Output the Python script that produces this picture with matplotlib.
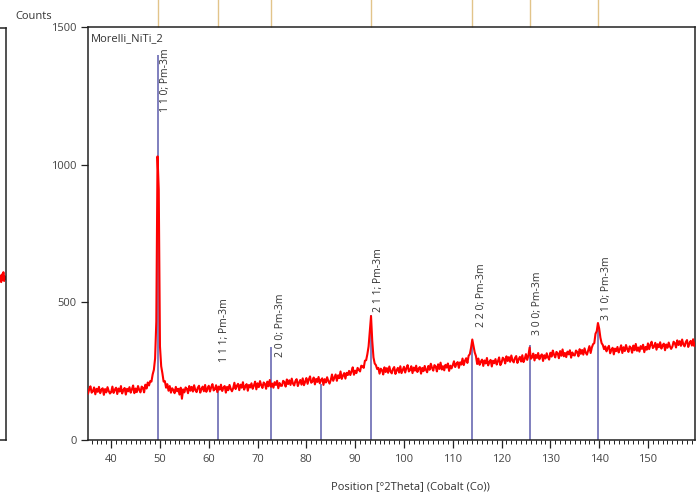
#!/usr/bin/env python
import matplotlib
matplotlib.use("Agg")
import matplotlib.pyplot as plt
import numpy as np
from matplotlib.ticker import MultipleLocator

plt.rcParams["font.family"] = ["Open Sans", "DejaVu Sans"]

output_file = "out.png"

# scan: Co K-alpha, 35 - 160 deg 2theta, 0.25 deg step
start_2theta = 35.0
step_2theta = 0.25
counts = [
    189, 168, 184, 195, 172, 177, 191, 166, 186, 175, 193, 170, 182, 188, 164, 185, 173, 192, 178, 169,
    174, 194, 171, 183, 190, 167, 187, 176, 196, 169, 181, 189, 165, 186, 177, 192, 172, 184, 198, 170,
    187, 174, 196, 182, 173, 194, 190, 173, 201, 187, 209, 198, 214, 212, 238, 255, 296, 430, 1030, 910,
    340, 268, 242, 212, 214, 190, 203, 179, 196, 172, 188, 181, 170, 193, 177, 186, 165, 190, 150, 184,
    173, 191, 186, 170, 196, 179, 193, 176, 199, 181, 174, 190, 197, 172, 185, 194, 177, 200, 175, 187,
    197, 176, 192, 203, 180, 185, 199, 174, 194, 183, 201, 178, 190, 196, 172, 193, 181, 200, 186, 177,
    188, 208, 185, 197, 204, 181, 201, 190, 210, 183, 195, 203, 179, 200, 191, 206, 186, 198, 212, 184,
    206, 192, 214, 199, 189, 209, 204, 186, 212, 195, 218, 193, 205, 190, 210, 200, 215, 188, 207, 197,
    197, 215, 210, 194, 220, 203, 217, 200, 223, 205, 198, 214, 221, 196, 209, 218, 201, 224, 199, 211,
    225, 204, 220, 231, 208, 213, 227, 202, 222, 211, 229, 206, 218, 224, 200, 221, 209, 228, 214, 205,
    218, 238, 215, 227, 238, 215, 235, 225, 249, 222, 234, 243, 223, 244, 236, 251, 236, 249, 264, 237,
    252, 243, 262, 255, 249, 270, 268, 262, 288, 290, 312, 340, 395, 450, 360, 300, 278, 272, 258, 262,
    241, 259, 254, 238, 264, 247, 261, 244, 267, 249, 242, 258, 265, 240, 253, 262, 245, 268, 243, 255,
    266, 245, 261, 272, 249, 254, 268, 243, 263, 252, 270, 247, 259, 265, 241, 262, 250, 269, 255, 246,
    269, 255, 277, 262, 252, 272, 267, 249, 275, 258, 281, 256, 268, 253, 273, 263, 278, 251, 270, 260,
    272, 286, 265, 277, 283, 262, 282, 274, 296, 272, 288, 297, 280, 306, 312, 335, 365, 342, 318, 305,
    276, 296, 273, 285, 292, 269, 289, 278, 298, 271, 283, 291, 267, 288, 279, 294, 274, 286, 300, 272,
    281, 299, 294, 278, 304, 287, 301, 284, 307, 289, 282, 298, 305, 280, 293, 302, 285, 308, 283, 295,
    312, 291, 307, 336, 295, 300, 314, 289, 309, 298, 316, 293, 305, 311, 287, 308, 296, 315, 301, 292,
    317, 303, 325, 310, 300, 320, 315, 297, 323, 306, 329, 304, 316, 301, 321, 311, 326, 299, 318, 308,
    307, 325, 320, 304, 330, 313, 327, 310, 333, 317, 310, 326, 341, 316, 336, 348, 352, 386, 395, 425,
    405, 372, 352, 345, 330, 340, 322, 334, 342, 315, 327, 335, 311, 332, 323, 338, 318, 330, 344, 316,
    337, 323, 345, 330, 320, 340, 335, 317, 343, 326, 349, 324, 336, 321, 341, 331, 346, 319, 338, 328,
    351, 330, 346, 357, 334, 339, 353, 328, 348, 337, 355, 332, 344, 350, 326, 347, 335, 354, 340, 331,
    339, 357, 352, 336, 362, 345, 359, 342, 365, 347, 340, 356, 363, 338, 351, 360, 343, 366, 341, 353,
]

# reference pattern NiTi (B2, Pm-3m)
ref_hkl = ["1 1 0", "1 1 1", "2 0 0", "2 1 0", "2 1 1", "2 2 0", "3 0 0", "3 1 0"]
ref_2theta = [49.6, 61.8, 72.8, 83.1, 93.3, 114.0, 125.8, 139.8]
ref_counts = [1400, 180, 338, 205, 455, 350, 345, 425]
# label anchors (position, counts) for the labelled lines
label_hkl = ["1 1 0", "1 1 1", "2 0 0", "2 1 1", "2 2 0", "3 0 0", "3 1 0"]
label_2theta = [51.2, 63.3, 74.6, 94.7, 115.8, 127.3, 141.6]
label_counts = [1191, 283, 301, 465, 410, 381, 436]

# second phase markers along the top
marker_2theta = [49.6, 61.8, 72.8, 93.3, 114.0, 125.8, 139.8]

# neighbouring panel (only its right edge is on screen)
left_pos = [0.962, 0.967, 0.972, 0.977, 0.982, 0.987, 0.992, 0.997]
left_counts = [598, 575, 603, 584, 611, 579, 596, 588]

two_theta = start_2theta + step_2theta * np.arange(len(counts))

fig = plt.figure(figsize=(7.0, 4.99), dpi=100)

ax_left = fig.add_axes([-0.2, 0.1182, 0.2086, 0.8257])
ax_left.plot(left_pos, left_counts, color="red", linewidth=1.5)
ax_left.set_xlim(0, 1)
ax_left.set_ylim(0, 1500)
ax_left.set_xticks([])
ax_left.set_yticks([])
for side in ["left", "right", "top", "bottom"]:
    ax_left.spines[side].set_linewidth(1.1)
    ax_left.spines[side].set_color("#222222")

ax = fig.add_axes([0.1257, 0.1182, 0.8671, 0.8277])

ax.vlines(ref_2theta, 0, ref_counts, color="#5c5cac", linewidth=1.1, zorder=2)
ax.plot(two_theta, counts, color="#ff0000", linewidth=1.5, zorder=3)

for hkl, x, y in zip(label_hkl, label_2theta, label_counts):
    ax.text(x, y, f"{hkl}; Pm-3m", rotation=90, ha="center", va="bottom",
            fontsize=7.5, color="#333333", zorder=4)

ax.vlines(marker_2theta, 1.0, 1.07, transform=ax.get_xaxis_transform(),
          color="#e2c48a", linewidth=1.0, clip_on=False)

ax.set_xlim(35.25, 159.63)
ax.set_ylim(0, 1500)
ax.xaxis.set_major_locator(MultipleLocator(10))
ax.xaxis.set_minor_locator(MultipleLocator(1))
ax.set_yticks([0, 500, 1000, 1500])
ax.tick_params(axis="x", which="major", length=6, width=0.9, labelsize=8,
               colors="#222222", labelcolor="#444444", pad=4)
ax.tick_params(axis="x", which="minor", length=3, width=0.7, colors="#222222")
ax.tick_params(axis="y", which="major", length=5, width=0.9, labelsize=8,
               colors="#222222", labelcolor="#444444", pad=3)
for side in ["left", "right", "top", "bottom"]:
    ax.spines[side].set_linewidth(1.1)
    ax.spines[side].set_color("#222222")

ax.text(0.005, 0.985, "Morelli_NiTi_2", transform=ax.transAxes, ha="left", va="top",
        fontsize=8, color="#333333")
fig.text(0.048, 0.966, "Counts", ha="center", va="center", fontsize=8, color="#333333")
fig.text(0.586, 0.024, "Position [°2Theta] (Cobalt (Co))", ha="center", va="center",
         fontsize=8, color="#333333")

fig.savefig(output_file, dpi=100)
plt.close(fig)
